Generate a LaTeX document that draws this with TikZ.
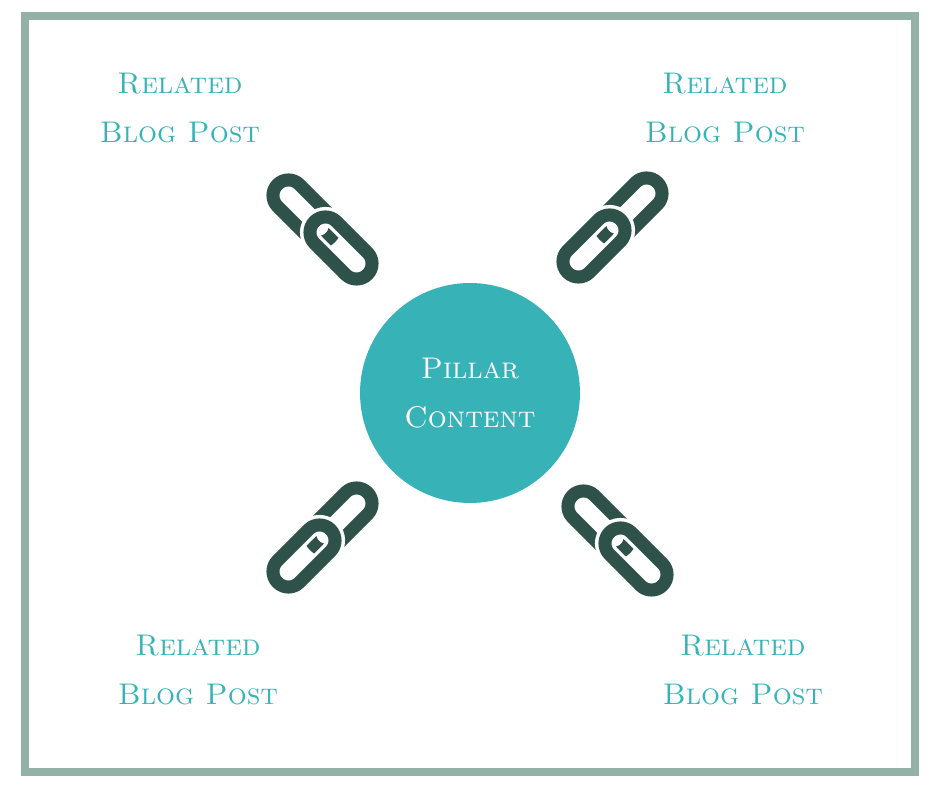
\documentclass[tikz,border=0pt]{standalone}
\usetikzlibrary{positioning}
\definecolor{framec}{HTML}{93B1A7}
\definecolor{tealc}{HTML}{37B3B8}
\definecolor{linkc}{HTML}{2E5249}
\begin{document}
\begin{tikzpicture}[x=0.02cm,y=0.02cm,
  pillar/.style={circle, fill=tealc, minimum size=4.4cm, inner sep=0pt, text=white, align=center, font=\fontsize{17}{28}\selectfont\scshape},
  post/.style={text=tealc, align=center, font=\fontsize{17}{28}\selectfont\scshape},
  link/.style={draw=linkc, line width=0.26cm, rounded corners=0.31cm, minimum width=1.5cm, minimum height=0.62cm, inner sep=0pt},
  halo/.style={link, draw=white, line width=0.40cm}]
  \useasboundingbox (0,0) rectangle (940,788);
  \draw[framec, line width=0.16cm] (25,16) rectangle (915,772);

  \node[pillar] (p) at (470,395) {Pillar\\Content};

  % posts
  \node[post] (tl) at (180,680) {Related\\Blog Post};
  \node[post] (tr) at (725,680) {Related\\Blog Post};
  \node[post] (bl) at (198,118) {Related\\Blog Post};
  \node[post] (br) at (743,118) {Related\\Blog Post};

  % chain links
  \node[link, rotate=-45] (tla) at (304,577) {};
  \node[halo, rotate=-45] at (341,540) {};
  \node[link, rotate=-45] (tlb) at (341,540) {};
  \node[link, rotate=45] (tra) at (631,579) {};
  \node[halo, rotate=45] at (594,542) {};
  \node[link, rotate=45] (trb) at (594,542) {};
  \node[link, rotate=45] (bla) at (341,269) {};
  \node[halo, rotate=45] at (304,232) {};
  \node[link, rotate=45] (blb) at (304,232) {};
  \node[link, rotate=-45] (bra) at (599,266) {};
  \node[halo, rotate=-45] at (636,229) {};
  \node[link, rotate=-45] (brb) at (636,229) {};
\end{tikzpicture}
\end{document}
